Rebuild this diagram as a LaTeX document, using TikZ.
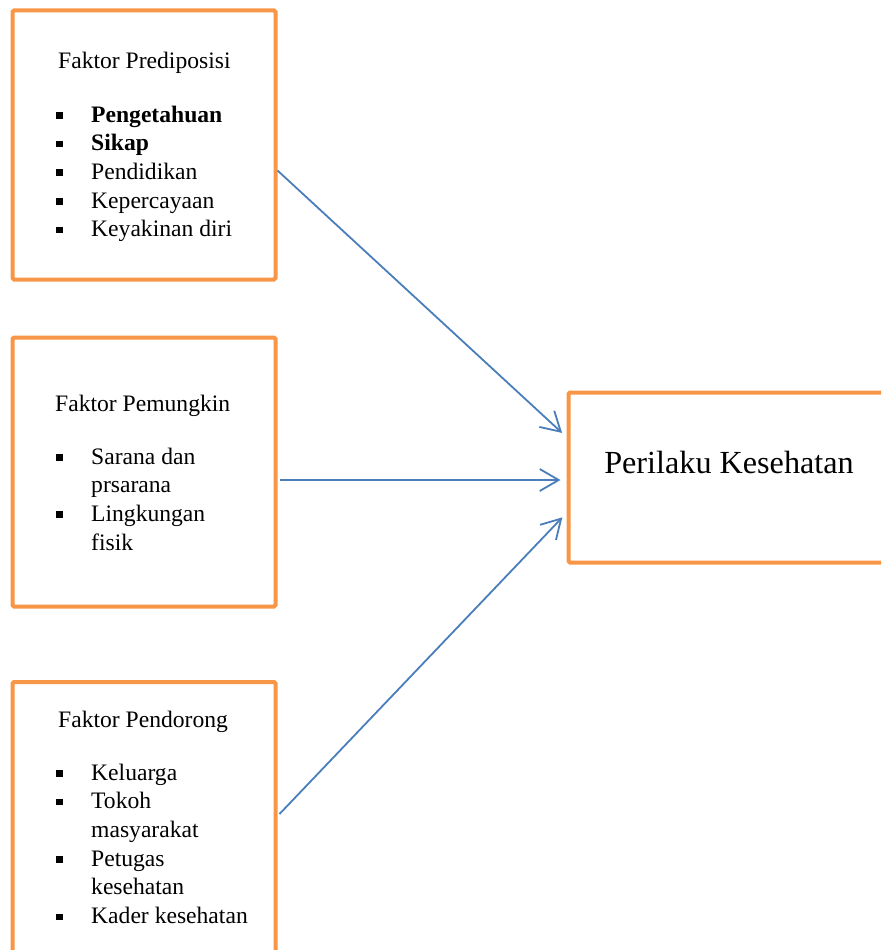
\documentclass[tikz,border=0pt]{standalone}
\usepackage{fontspec}
\setmainfont{Liberation Serif}
\usetikzlibrary{arrows.meta,calc}
\definecolor{boxorange}{HTML}{F79646}
\definecolor{arrowblue}{HTML}{4A7EBB}
\newcommand{\bul}{\raisebox{3.5pt}{\rule{6.5pt}{6.5pt}}}
\begin{document}
\begin{tikzpicture}[x=1pt,y=-1pt,
  fbox/.style={draw=boxorange, line width=4pt, rounded corners=1.5pt, fill=white, inner sep=0pt},
  title/.style={anchor=base west, inner sep=0pt, font=\fontsize{23.6}{29}\selectfont},
  list/.style={anchor=base west, inner sep=0pt, font=\fontsize{23.6}{28.7}\selectfont},
  link/.style={draw=arrowblue, line width=1.8pt, -{Straight Barb[length=19pt,width=22pt,line width=1.8pt]}}]
\useasboundingbox (0,0) rectangle (881,950);
\clip (0,0) rectangle (881,950);
% boxes
\node[fbox, minimum width=263pt, minimum height=269pt] (b1) at (144,145) {};
\node[fbox, minimum width=263pt, minimum height=269pt] (b2) at (144,472) {};
\node[fbox, minimum width=263pt, minimum height=300pt] (b3) at (144,832) {};
\node[fbox, minimum width=340pt, minimum height=170pt] (b4) at (738.5,477.5) {};
% box 1 text
\node[title] (t1) at (58,68) {Faktor Prediposisi};
\node[list] (l1) at (56,122) {\begin{tabular}[t]{@{}p{35pt}@{}l@{}}
\bul & \textbf{Pengetahuan}\\
\bul & \textbf{Sikap}\\
\bul & Pendidikan\\
\bul & Kepercayaan\\
\bul & Keyakinan diri
\end{tabular}};
% box 2 text
\node[title] (t2) at (55,411) {Faktor Pemungkin};
\node[list] (l2) at (56,464) {\begin{tabular}[t]{@{}p{35pt}@{}l@{}}
\bul & Sarana dan\\
 & prsarana\\
\bul & Lingkungan\\
 & fisik
\end{tabular}};
% box 3 text
\node[title] (t3) at (58,727) {Faktor Pendorong};
\node[list] (l3) at (56,780) {\begin{tabular}[t]{@{}p{35pt}@{}l@{}}
\bul & Keluarga\\
\bul & Tokoh\\
 & masyarakat\\
\bul & Petugas\\
 & kesehatan\\
\bul & Kader kesehatan
\end{tabular}};
% box 4 text
\node[anchor=base, inner sep=0pt, font=\fontsize{32.2}{38}\selectfont] (t4) at (729,473) {Perilaku Kesehatan};
% arrows
\draw[link, shorten >=6pt] ($(b1.north east)+(0,162)$) -- ($(b4.north west)+(0,46.5)$);
\draw[link, shorten >=6pt] ($(b2.north east)+(2,144.5)$) -- ($(b4.north west)+(0,89.5)$);
\draw[link, shorten >=6pt] ($(b3.north east)+(2,134)$) -- ($(b4.north west)+(0,122.5)$);
\end{tikzpicture}
\end{document}
